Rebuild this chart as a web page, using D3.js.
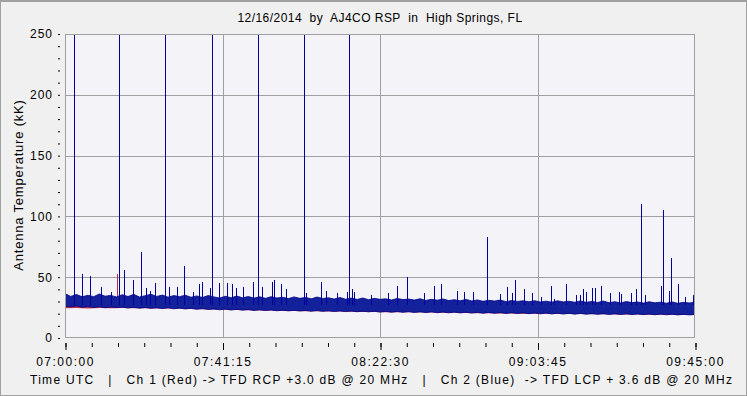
<!DOCTYPE html>
<html>
<head>
<meta charset="utf-8">
<script src="https://cdn.jsdelivr.net/npm/d3@7"></script>
<style>
  html, body { margin: 0; padding: 0; background: #f0f0f0; }
  svg { display: block; }
  text { font-family: "Liberation Sans", Arial, sans-serif; fill: #000; }
</style>
</head>
<body>
<script>
(function(){

  //chart texts
  var titleText = "12/16/2014  by  AJ4CO RSP  in  High Springs, FL";
  var yTitle = "Antenna Temperature (kK)";
  var footText = "Time UTC   |   Ch 1 (Red) -> TFD RCP +3.0 dB @ 20 MHz   |   Ch 2 (Blue)  -> TFD LCP + 3.6 dB @ 20 MHz";

  //x axis: minutes after 07:00:00 UTC
  var xLabelMinutes = [0, 41.25, 82.5, 123.75, 165];
  var xLabels = ["07:00:00", "07:41:15", "08:22:30", "09:03:45", "09:45:00"];
  var yLabels = [0, 50, 100, 150, 200, 250];

  //ch 2 (blue) noise band, one sample every 1.5 min
  var blueStep = 1.5;
  var blueUpper = [36.5, 34.2, 35.8, 33.9, 35.1, 34.0, 36.2, 34.4, 35.0, 33.8, 35.6,
    34.1, 35.9, 33.7, 34.8, 36.0, 34.2, 35.3, 33.6, 34.9, 34.0,
    35.2, 33.5, 34.6, 33.3, 34.9, 33.8, 32.9, 34.3, 33.1, 34.5,
    33.0, 34.1, 32.8, 33.9, 32.6, 34.0, 32.9, 33.5, 32.4, 33.8,
    32.6, 33.4, 32.2, 33.7, 32.5, 33.1, 32.0, 33.3, 31.9, 32.8,
    31.7, 32.9, 31.5, 32.6, 31.8, 32.2, 31.3, 32.5, 31.6, 32.0,
    31.2, 32.3, 30.9, 31.8, 31.1, 32.1, 30.8, 31.5, 30.6, 31.7,
    30.5, 31.3, 30.2, 31.0, 30.4, 31.2, 29.9, 30.8, 30.1, 30.6,
    29.8, 30.7, 29.6, 30.3, 29.5, 30.6, 29.7, 30.2, 29.4, 30.5,
    29.3, 30.1, 29.2, 30.4, 29.0, 29.9, 28.8, 30.0, 29.1, 29.6,
    28.7, 29.8, 28.9, 29.5, 28.6, 29.7, 28.5, 29.3, 28.8, 29.4];
  var blueLower = [26.2, 25.6, 26.4, 25.3, 25.9, 25.1, 25.7, 24.9, 25.5, 25.0, 25.4,
    24.7, 25.3, 24.5, 25.1, 24.4, 24.9, 24.2, 24.8, 24.0, 24.6,
    23.9, 24.4, 23.6, 24.2, 23.5, 23.9, 23.2, 23.8, 23.0, 23.6,
    22.9, 23.4, 22.7, 23.2, 22.6, 23.1, 22.4, 22.9, 22.3, 22.8,
    22.2, 22.7, 22.0, 22.6, 21.9, 22.4, 21.8, 22.3, 21.7, 22.2,
    21.6, 22.1, 21.5, 22.0, 21.3, 21.9, 21.2, 21.8, 21.1, 21.7,
    21.0, 21.6, 20.9, 21.5, 20.8, 21.4, 20.7, 21.3, 20.6, 21.2,
    20.5, 21.1, 20.4, 21.0, 20.3, 20.9, 20.2, 20.8, 20.1, 20.7,
    20.0, 20.6, 19.9, 20.5, 19.8, 20.4, 19.7, 20.3, 19.6, 20.2,
    19.6, 20.1, 19.5, 20.0, 19.4, 20.0, 19.3, 19.9, 19.3, 19.8,
    19.2, 19.8, 19.1, 19.7, 19.1, 19.6, 19.0, 19.5, 19.0, 19.4];

  //ch 1 (red) noise band, one sample every 3 min
  var redStep = 3;
  var redUpper = [32.0, 31.8, 31.5, 31.7, 31.2, 31.0, 31.3, 30.8, 30.6, 30.9,
    30.4, 30.2, 30.5, 30.0, 29.8, 30.1, 29.6, 29.5, 29.7, 29.3,
    29.1, 29.4, 28.9, 28.8, 29.0, 28.6, 28.4, 28.7, 28.3, 28.1,
    28.4, 27.9, 27.8, 28.0, 27.6, 27.5, 27.7, 27.3, 27.2, 27.4,
    27.0, 26.9, 27.1, 26.8, 26.6, 26.9, 26.5, 26.4, 26.6, 26.2,
    26.1, 26.3, 26.0, 25.9, 26.1, 25.8];
  var redLower = [24.4, 24.7, 24.3, 24.6, 24.5, 24.7, 24.5, 24.4, 24.3, 24.2,
    24.0, 23.9, 23.6, 23.4, 23.3, 23.0, 22.9, 22.6, 22.6, 22.3,
    22.3, 22.0, 22.0, 21.7, 21.7, 21.5, 21.4, 21.3, 21.2, 21.1,
    21.1, 20.9, 20.9, 20.7, 20.7, 20.5, 20.4, 20.4, 20.2, 20.2,
    20.0, 20.0, 19.9, 19.8, 19.7, 19.7, 19.5, 19.5, 19.4, 19.3,
    19.3, 19.2, 19.1, 19.1, 19.0, 18.9];

  //spikes [minute, kK]
  var blueSpikes = [[2.4, 300], [4.5, 53], [6.6, 51], [9.4, 42], [12.1, 38], [14.2, 300],
    [15.5, 56], [17.9, 48], [20.0, 71], [21.1, 41], [22.3, 39], [23.7, 45], [26.3, 300],
    [27.2, 42], [29.3, 42], [31.2, 59], [33.6, 38], [35.2, 44], [35.8, 46], [38.1, 41],
    [38.6, 300], [40.4, 45], [42.5, 45], [43.7, 44], [44.8, 41], [46.7, 42], [49.3, 46],
    [50.6, 300], [51.7, 42], [54.1, 46], [54.7, 48], [56.5, 44], [57.9, 40], [62.5, 300],
    [63.1, 37], [67.0, 46], [68.4, 39], [71.3, 37], [73.8, 38], [74.5, 300], [75.1, 40],
    [75.8, 38], [80.1, 35], [84.7, 37], [87.0, 43], [89.5, 50], [94.0, 37], [96.7, 43],
    [98.4, 44], [102.7, 39], [104.6, 38], [106.9, 38], [110.5, 83], [113.9, 36], [115.8, 42],
    [117.2, 37], [117.9, 48], [120.2, 40], [122.4, 37], [124.7, 34], [127.4, 43], [128.1, 32],
    [131.3, 44], [133.8, 35], [135.0, 35], [135.7, 40], [136.5, 38], [138.1, 41], [138.9, 41],
    [140.5, 43], [142.8, 37], [145.0, 38], [145.7, 36], [148.3, 37], [149.6, 40], [150.9, 110],
    [152.0, 35], [156.2, 43], [156.7, 105], [158.2, 39], [158.8, 66], [160.6, 44], [162.5, 34],
    [164.5, 35]];
  var redSpikes = [[13.5, 53]];

  //frame dimensions
  var width = 747, height = 396;
  var plotLeft = 65, plotRight = 695, plotTop = 34, plotBottom = 338;

  var svg = d3.select("body").append("svg")
      .attr("width", width)
      .attr("height", height);

  //window border
  svg.append("rect")
      .attr("x", 0.5).attr("y", 0.5)
      .attr("width", width - 1).attr("height", height - 1)
      .attr("fill", "#f0f0f0")
      .attr("stroke", "#a0a0a0");
  svg.append("line")
      .attr("x1", 1).attr("x2", width - 1).attr("y1", 1.5).attr("y2", 1.5)
      .attr("stroke", "#a0a0a0");

  var x = d3.scaleLinear().domain([0, 165]).range([plotLeft, plotRight]);
  var y = d3.scaleLinear().domain([0, 250]).range([plotBottom, plotTop]);

  //plot background
  svg.append("rect")
      .attr("x", plotLeft).attr("y", plotTop)
      .attr("width", plotRight - plotLeft).attr("height", plotBottom - plotTop)
      .attr("fill", "#f4f4f8");

  //grid lines
  svg.append("g").selectAll("line")
      .data(xLabelMinutes.slice(1, -1))
      .enter().append("line")
      .attr("x1", function(d){ return Math.round(x(d)) + 0.5; })
      .attr("x2", function(d){ return Math.round(x(d)) + 0.5; })
      .attr("y1", plotTop).attr("y2", plotBottom)
      .attr("stroke", "#a0a0a0");
  svg.append("g").selectAll("line")
      .data(yLabels.slice(1, -1))
      .enter().append("line")
      .attr("x1", plotLeft).attr("x2", plotRight)
      .attr("y1", function(d){ return Math.round(y(d)) + 0.5; })
      .attr("y2", function(d){ return Math.round(y(d)) + 0.5; })
      .attr("stroke", "#a0a0a0");

  //clip for the data
  svg.append("clipPath").attr("id", "plotClip")
      .append("rect")
      .attr("x", plotLeft).attr("y", plotTop)
      .attr("width", plotRight - plotLeft).attr("height", plotBottom - plotTop);
  var plot = svg.append("g").attr("clip-path", "url(#plotClip)");

  //ch 1 red band
  var redArea = d3.area()
      .x(function(d, i){ return x(i * redStep); })
      .y0(function(d, i){ return y(redLower[i]); })
      .y1(function(d){ return y(d); });
  plot.append("path")
      .datum(redUpper)
      .attr("d", redArea)
      .attr("fill", "#b8304a");

  plot.selectAll(".redSpike")
      .data(redSpikes)
      .enter().append("line")
      .attr("class", "redSpike")
      .attr("x1", function(d){ return Math.round(x(d[0])) + 0.5; })
      .attr("x2", function(d){ return Math.round(x(d[0])) + 0.5; })
      .attr("y1", y(26))
      .attr("y2", function(d){ return y(d[1]); })
      .attr("stroke", "#b8304a")
      .attr("stroke-width", 1)
      .attr("shape-rendering", "crispEdges");

  //ch 2 blue band
  var blueArea = d3.area()
      .x(function(d, i){ return x(i * blueStep); })
      .y0(function(d, i){ return y(blueLower[i]); })
      .y1(function(d){ return y(d); });
  plot.append("path")
      .datum(blueUpper)
      .attr("d", blueArea)
      .attr("fill", "#13229a")
      .attr("stroke", "#000088")
      .attr("stroke-width", 0.8);

  plot.selectAll(".blueSpike")
      .data(blueSpikes)
      .enter().append("line")
      .attr("class", "blueSpike")
      .attr("x1", function(d){ return Math.round(x(d[0])) + 0.5; })
      .attr("x2", function(d){ return Math.round(x(d[0])) + 0.5; })
      .attr("y1", y(27))
      .attr("y2", function(d){ return y(d[1]); })
      .attr("stroke", "#00009a")
      .attr("stroke-width", 1)
      .attr("shape-rendering", "crispEdges");

  //plot frame
  svg.append("rect")
      .attr("x", plotLeft + 0.5).attr("y", plotTop + 0.5)
      .attr("width", plotRight - plotLeft - 1).attr("height", plotBottom - plotTop - 1)
      .attr("fill", "none")
      .attr("stroke", "#a0a0a0");

  //y axis minor ticks
  var yMinor = svg.append("g")
      .attr("class", "axis")
      .attr("transform", "translate(60,0)")
      .call(d3.axisLeft(y).tickValues(d3.range(0, 251, 10)).tickSize(2).tickFormat(""));
  yMinor.select(".domain").remove();
  yMinor.selectAll("line").attr("stroke", "#000");

  //y axis labels
  var yAxis = svg.append("g")
      .attr("transform", "translate(60,0)")
      .call(d3.axisLeft(y).tickValues(yLabels).tickSize(0).tickPadding(7));
  yAxis.select(".domain").remove();
  yAxis.selectAll("text")
      .style("font-family", "'Liberation Sans', Arial, sans-serif")
      .style("font-size", "12px")
      .style("letter-spacing", "1px");

  //x axis ticks
  var xMinor = svg.append("g")
      .attr("transform", "translate(0,343)")
      .call(d3.axisBottom(x).tickValues(d3.range(0, 165.01, 6.875)).tickSize(4).tickFormat(""));
  xMinor.select(".domain").remove();
  xMinor.selectAll("line").attr("stroke", "#000")
      .attr("transform", "translate(0.5,0)");

  var xAxis = svg.append("g")
      .attr("transform", "translate(0,343)")
      .call(d3.axisBottom(x).tickValues(xLabelMinutes).tickSize(7).tickPadding(7)
          .tickFormat(function(d, i){ return xLabels[i]; }));
  xAxis.select(".domain").remove();
  xAxis.selectAll("line").attr("stroke", "#000")
      .attr("transform", "translate(0.5,0)");
  xAxis.selectAll("text")
      .style("font-family", "'Liberation Sans', Arial, sans-serif")
      .style("font-size", "12px")
      .style("letter-spacing", "1.5px");

  //title
  svg.append("text")
      .attr("x", 380)
      .attr("y", 22)
      .attr("text-anchor", "middle")
      .style("font-size", "12px")
      .style("letter-spacing", "0.45px")
      .style("white-space", "pre")
      .text(titleText);

  //y axis title
  svg.append("text")
      .attr("transform", "translate(23,185) rotate(-90)")
      .attr("text-anchor", "middle")
      .style("font-size", "13px")
      .style("letter-spacing", "0.8px")
      .text(yTitle);

  //footer legend
  svg.append("text")
      .attr("x", 381)
      .attr("y", 384)
      .attr("text-anchor", "middle")
      .attr("textLength", 702)
      .attr("lengthAdjust", "spacing")
      .style("font-size", "12px")
      .style("white-space", "pre")
      .text(footText);

})();
</script>
</body>
</html>
